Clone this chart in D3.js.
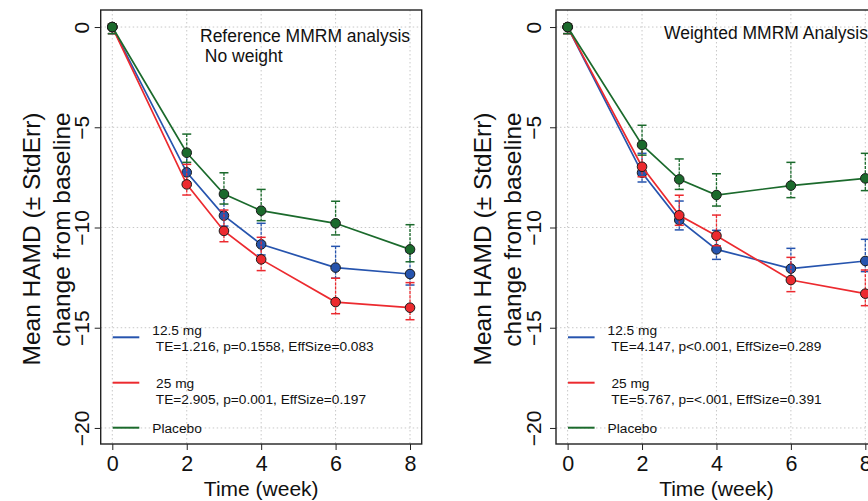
<!DOCTYPE html>
<html><head><meta charset="utf-8">
<script src="https://cdn.jsdelivr.net/npm/d3@7"></script>
<style>
html,body{margin:0;padding:0;background:#fff;}
svg{display:block;font-family:"Liberation Sans",Arial,Helvetica,sans-serif;}
</style></head><body>
<svg id="chart" width="868" height="501"></svg>
<script>
// ---------- data ----------
const weeks = [0, 2, 3, 4, 6, 8];
const xTicks = [0, 2, 4, 6, 8];
const yTicks = [0, -5, -10, -15, -20];
const seriesNames = ["12.5 mg", " 25 mg", "Placebo"];
const seriesColors = ["#2654ae", "#ec2a2f", "#1b6a2c"];

// Reference MMRM analysis (no weight)
const ref12Mean  = [0, -7.25, -9.41, -10.84, -12.00, -12.32];
const ref12Upper = [0.15, -6.30, -8.40, -9.79, -10.94, -11.22];
const ref12Lower = [-0.33, -7.75, -9.93, -11.37, -12.53, -12.87];
const ref25Mean  = [0, -7.85, -10.17, -11.59, -13.72, -14.00];
const ref25Upper = [0.15, -6.85, -9.13, -10.49, -12.53, -12.75];
const ref25Lower = [-0.33, -8.38, -10.71, -12.15, -14.30, -14.60];
const refPboMean  = [0, -6.27, -8.33, -9.16, -9.79, -11.09];
const refPboUpper = [0.15, -5.34, -7.27, -8.10, -8.69, -9.86];
const refPboLower = [-0.33, -6.75, -8.83, -9.66, -10.37, -11.71];

// Weighted MMRM analysis
const wt12Mean  = [0, -7.27, -9.63, -11.09, -12.05, -11.67];
const wt12Upper = [0.15, -6.30, -8.68, -10.14, -11.04, -10.59];
const wt12Lower = [-0.33, -7.73, -10.12, -11.59, -12.57, -12.20];
const wt25Mean  = [0, -6.97, -9.39, -10.41, -12.62, -13.30];
const wt25Upper = [0.15, -5.95, -8.39, -9.38, -11.49, -12.12];
const wt25Lower = [-0.33, -7.47, -9.89, -10.91, -13.20, -13.90];
const wtPboMean  = [0, -5.88, -7.60, -8.38, -7.91, -7.55];
const wtPboUpper = [0.15, -4.90, -6.58, -7.32, -6.75, -6.30];
const wtPboLower = [-0.33, -6.39, -8.10, -8.93, -8.51, -8.16];

const refTitle = ["Reference MMRM analysis", " No weight"];
const wtTitle = ["Weighted MMRM Analysis"];
const refStats = [" TE=1.216, p=0.1558, EffSize=0.083", " TE=2.905, p=0.001, EffSize=0.197"];
const wtStats  = [" TE=4.147, p<0.001, EffSize=0.289", " TE=5.767, p=<.001, EffSize=0.391"];
const xTitle = "Time (week)";
const yTitle = ["Mean HAMD (\u00B1 StdErr)", "change from baseline"];

// ---------- layout ----------
const svg = d3.select("#chart");
const boxW = 321, boxTop = 10, boxBottom = 444;
const panels = [
  {left: 100.7, labelShift: 0, titleX: 99.3, titleY: 41.5,
   mean: [ref12Mean, ref25Mean, refPboMean], upper: [ref12Upper, ref25Upper, refPboUpper],
   lower: [ref12Lower, ref25Lower, refPboLower], title: refTitle, stats: refStats},
  {left: 556, labelShift: 4, titleX: 108, titleY: 39,
   mean: [wt12Mean, wt25Mean, wtPboMean], upper: [wt12Upper, wt25Upper, wtPboUpper],
   lower: [wt12Lower, wt25Lower, wtPboLower], title: wtTitle, stats: wtStats}
];

panels.forEach(p => {
  const x = d3.scaleLinear().domain([-0.312, 8.314]).range([p.left, p.left + boxW]);
  const y = d3.scaleLinear().domain([-20.8, 0.85]).range([boxBottom, boxTop]);
  const g = svg.append("g");

  // grid
  g.selectAll(".gx").data(xTicks).join("line")
    .attr("x1", d => x(d)).attr("x2", d => x(d)).attr("y1", boxTop).attr("y2", boxBottom)
    .attr("stroke", "#c8c8c8").attr("stroke-width", 1).attr("stroke-dasharray", "1.5,2.5");
  g.selectAll(".gy").data(yTicks).join("line")
    .attr("y1", d => y(d)).attr("y2", d => y(d)).attr("x1", p.left).attr("x2", p.left + boxW)
    .attr("stroke", "#c8c8c8").attr("stroke-width", 1).attr("stroke-dasharray", "1.5,2.5");

  // axes
  const ax = g.append("g").attr("transform", `translate(0,${boxBottom})`)
    .call(d3.axisBottom(x).tickValues(xTicks).tickSize(6).tickFormat(d3.format("d")));
  ax.select(".domain").remove();
  ax.selectAll("line").attr("stroke", "#222");
  ax.selectAll("text").attr("y", 27).attr("dy", 0).attr("font-size", 21.5).attr("fill", "#111")
    .style("font-family", "Liberation Sans, Arial, sans-serif");

  const ay = g.append("g").attr("transform", `translate(${p.left},0)`)
    .call(d3.axisLeft(y).tickValues(yTicks).tickSize(6).tickFormat(d3.format("d")));
  ay.select(".domain").remove();
  ay.selectAll("line").attr("stroke", "#222");
  ay.selectAll("text").attr("x", 0).attr("y", -(11.5 + p.labelShift)).attr("dy", 0)
    .attr("text-anchor", "middle").attr("transform", "rotate(-90)")
    .attr("font-size", 21).attr("fill", "#111")
    .style("font-family", "Liberation Sans, Arial, sans-serif");

  // axis titles
  const titleCy = [239, 229.5];
  const titleBx = [-61, -31];
  yTitle.forEach((t, i) => {
    const bx = p.left + titleBx[i] - p.labelShift;
    g.append("text").attr("transform", `translate(${bx},${titleCy[i]}) rotate(-90)`)
      .attr("text-anchor", "middle").attr("font-size", 24.5).attr("fill", "#111").text(t);
  });
  g.append("text").attr("x", p.left + boxW / 2).attr("y", 496)
    .attr("text-anchor", "middle").attr("font-size", 21).attr("fill", "#111").text(xTitle);

  // series
  const line = d3.line().x((d, i) => x(weeks[i])).y(d => y(d));
  [0, 1, 2].forEach(s => {
    const col = seriesColors[s];
    const sg = g.append("g");
    sg.append("path").datum(p.mean[s]).attr("d", line)
      .attr("fill", "none").attr("stroke", col).attr("stroke-width", 1.7);
    const eb = sg.selectAll(".eb").data(weeks).join("g");
    eb.append("line").attr("x1", d => x(d)).attr("x2", d => x(d))
      .attr("y1", (d, i) => y(p.upper[s][i])).attr("y2", (d, i) => y(p.lower[s][i]))
      .attr("stroke", col).attr("stroke-width", 1.3).attr("stroke-dasharray", "3,1.2");
    eb.append("line").attr("x1", d => x(d) - 4.5).attr("x2", d => x(d) + 4.5)
      .attr("y1", (d, i) => y(p.upper[s][i])).attr("y2", (d, i) => y(p.upper[s][i]))
      .attr("stroke", col).attr("stroke-width", 1.5);
    eb.append("line").attr("x1", d => x(d) - 4.5).attr("x2", d => x(d) + 4.5)
      .attr("y1", (d, i) => y(p.lower[s][i])).attr("y2", (d, i) => y(p.lower[s][i]))
      .attr("stroke", col).attr("stroke-width", 1.5);
    sg.selectAll("circle").data(p.mean[s]).join("circle")
      .attr("cx", (d, i) => x(weeks[i])).attr("cy", d => y(d)).attr("r", 4.8)
      .attr("fill", col).attr("stroke", "#1a1a1a").attr("stroke-width", 1);
  });

  // frame
  g.append("rect").attr("x", p.left).attr("y", boxTop).attr("width", boxW).attr("height", boxBottom - boxTop)
    .attr("fill", "none").attr("stroke", "#222").attr("stroke-width", 1.4);

  // panel title
  p.title.forEach((t, i) => {
    g.append("text").attr("x", p.left + p.titleX).attr("y", p.titleY + i * 20)
      .attr("font-size", 17.5).attr("fill", "#111").style("white-space", "pre").text(t);
  });

  // legend
  const lineY = [337.3, 382.7, 427.7];
  const textY = [[335, 350.7], [387.7, 404.3], [432.7]];
  [0, 1, 2].forEach(s => {
    g.append("line").attr("x1", p.left + 12).attr("x2", p.left + 38.6)
      .attr("y1", lineY[s]).attr("y2", lineY[s]).attr("stroke", seriesColors[s]).attr("stroke-width", 2);
    const lines = s < 2 ? [seriesNames[s], p.stats[s]] : [seriesNames[s]];
    lines.forEach((t, k) => {
      g.append("text").attr("x", p.left + 51.6).attr("y", textY[s][k])
        .attr("font-size", 13.7).attr("fill", "#111").style("white-space", "pre").text(t);
    });
  });
});
</script>
</body></html>
